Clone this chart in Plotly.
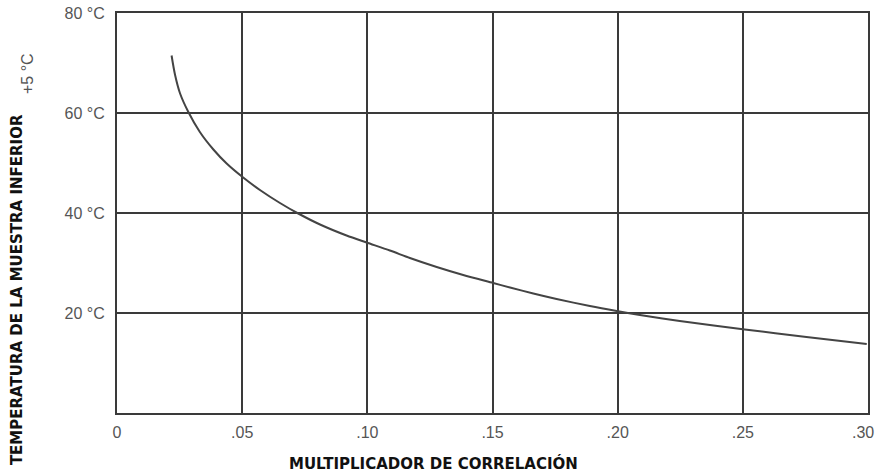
import plotly.graph_objects as go

# Curve
multiplier = [0.0218, 0.0232, 0.0252, 0.0285, 0.0331, 0.0385, 0.0438, 0.0504,
              0.0571, 0.0651, 0.0724, 0.0811, 0.0917, 0.0997, 0.109, 0.117,
              0.1277, 0.1383, 0.1503, 0.157, 0.1663, 0.1756, 0.1889, 0.1996,
              0.2089, 0.2248, 0.2508, 0.2754, 0.2995]
temperature = [71.5, 67.6, 63.9, 60.2, 56.2, 52.7, 49.9, 47.1,
               44.6, 42.0, 39.9, 37.7, 35.5, 34.1, 32.5, 31.0,
               29.2, 27.6, 26.0, 25.1, 23.9, 22.8, 21.4, 20.4,
               19.6, 18.4, 16.7, 15.2, 13.8]

x_tickvals = [0, 0.05, 0.10, 0.15, 0.20, 0.25, 0.30]
x_ticktext = ["0", ".05", ".10", ".15", ".20", ".25", ".30"]
y_tickvals = [20, 40, 60, 80]
y_ticktext = ["20 °C", "40 °C", "60 °C", "80 °C"]

x_title = "MULTIPLICADOR DE CORRELACIÓN"
y_title = "TEMPERATURA DE LA MUESTRA INFERIOR"
y_note = "+5 °C"

grid_col = "#3a3a3a"
tick_font = dict(family="Arial, Liberation Sans, sans-serif", size=16, color="#555555")
title_font = dict(family="DejaVu Sans, Verdana, sans-serif", size=15, color="#111111")

# the last x tick label sits at the right edge of the page: draw it right-aligned
shown_ticktext = x_ticktext[:-1] + [""]

fig = go.Figure()
fig.add_trace(go.Scatter(x=multiplier, y=temperature, mode="lines",
                         line=dict(color="#444444", width=2, shape="spline", smoothing=0.8),
                         hoverinfo="skip", showlegend=False))

fig.update_layout(
    width=877, height=472,
    margin=dict(l=117, r=9, t=13, b=59, autoexpand=False),
    paper_bgcolor="white", plot_bgcolor="white",
    xaxis=dict(range=[0, 0.30], tickvals=x_tickvals, ticktext=shown_ticktext,
               showgrid=True, gridcolor=grid_col, gridwidth=1.5,
               showline=True, linecolor=grid_col, linewidth=2, mirror=True,
               zeroline=False, ticks="", tickfont=tick_font, ticklabelstandoff=4,
               automargin=False),
    yaxis=dict(range=[0, 80], tickvals=y_tickvals, ticktext=y_ticktext,
               showgrid=True, gridcolor=grid_col, gridwidth=1.5,
               showline=True, linecolor=grid_col, linewidth=2, mirror=True,
               zeroline=False, ticks="", tickfont=tick_font, ticklabelstandoff=7,
               automargin=False),
    annotations=[
        dict(text=x_ticktext[-1], xref="paper", yref="paper",
             x=1.0105, y=-0.0475, showarrow=False, font=tick_font,
             xanchor="right", yanchor="middle"),
        dict(text="<b>" + x_title + "</b>", xref="paper", yref="paper",
             x=0.4208, y=-0.125, showarrow=False, font=title_font,
             xanchor="center", yanchor="middle"),
        dict(text="<b>" + y_title + "</b>", xref="paper", yref="paper",
             x=-0.133, y=0.3075, showarrow=False, font=title_font, textangle=-90,
             xanchor="center", yanchor="middle"),
        dict(text=y_note, xref="paper", yref="paper",
             x=-0.1185, y=0.8475, showarrow=False, textangle=-90,
             font=dict(family="Arial, Liberation Sans, sans-serif", size=16, color="#555555"),
             xanchor="center", yanchor="middle"),
    ],
)

fig.write_html("out.html", config={"displayModeBar": False},
               post_script="document.body.style.margin='0';")
